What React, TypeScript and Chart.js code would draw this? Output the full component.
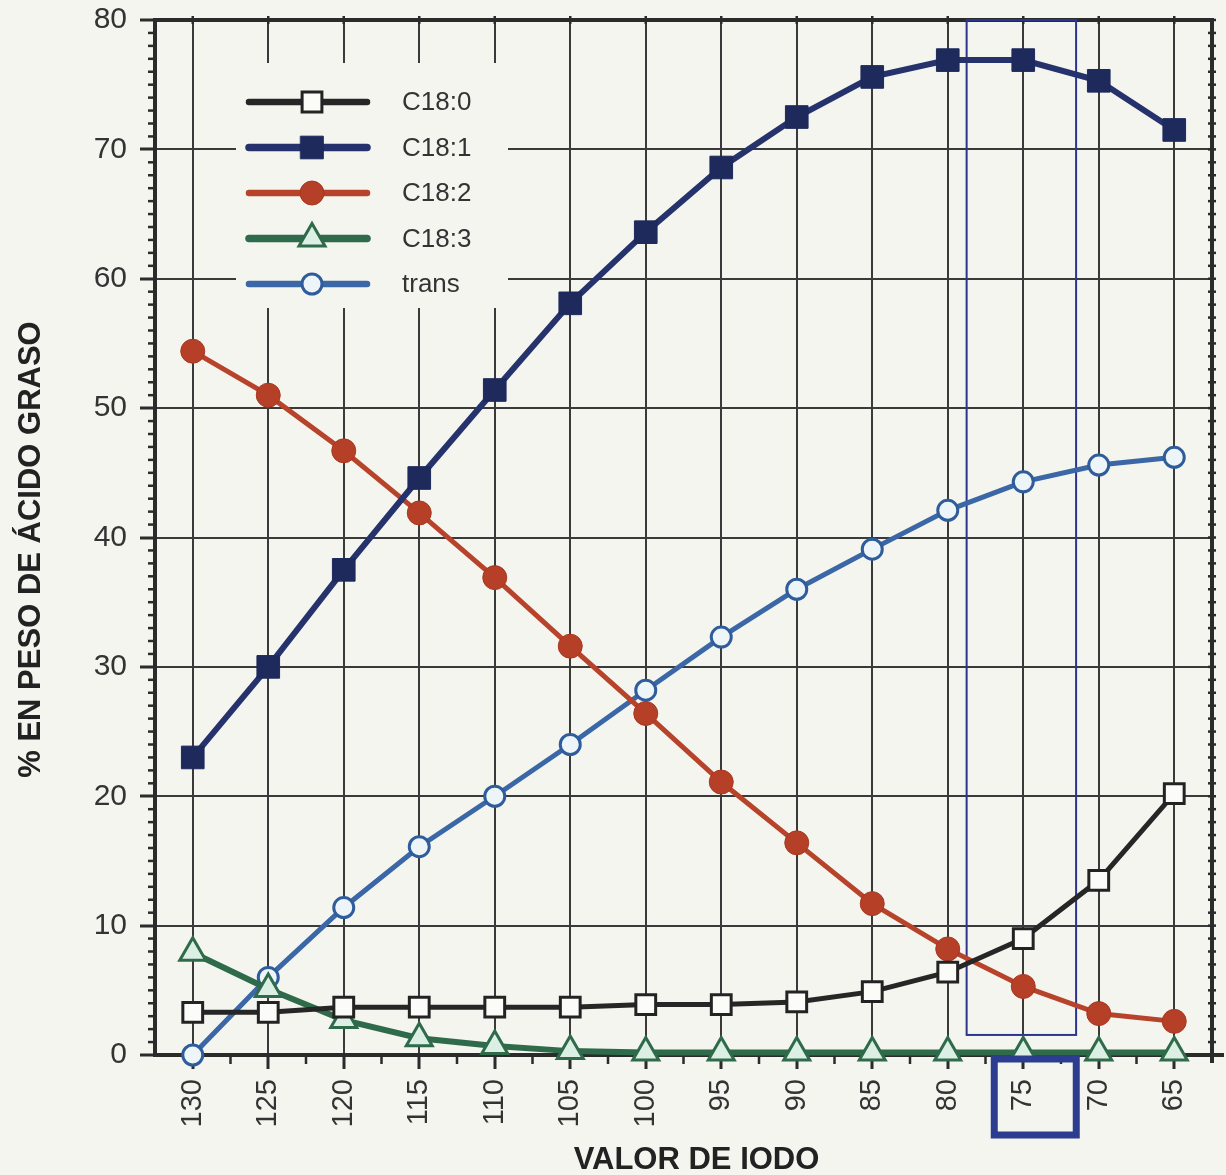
import React, { useEffect, useRef } from 'react';
import { Chart, registerables } from 'chart.js';
import { drawPoint } from 'chart.js/helpers';

Chart.register(...registerables);

// ---- data ----
const valorDeIodo = ['130', '125', '120', '115', '110', '105', '100', '95', '90', '85', '80', '75', '70', '65'];
const c180 = [3.3, 3.3, 3.7, 3.7, 3.7, 3.7, 3.9, 3.9, 4.1, 4.9, 6.4, 9.0, 13.5, 20.2];
const c181 = [23.0, 30.0, 37.5, 44.6, 51.4, 58.1, 63.6, 68.6, 72.5, 75.6, 76.9, 76.9, 75.3, 71.5];
const c182 = [54.4, 51.0, 46.7, 41.9, 36.9, 31.6, 26.4, 21.1, 16.4, 11.7, 8.2, 5.3, 3.2, 2.6];
const c183 = [7.9, 5.1, 2.7, 1.3, 0.7, 0.3, 0.2, 0.2, 0.2, 0.2, 0.2, 0.2, 0.2, 0.2];
const trans = [0.0, 6.0, 11.4, 16.1, 20.0, 24.0, 28.2, 32.3, 36.0, 39.1, 42.1, 44.3, 45.6, 46.2];
const seriesLabels = ['C18:0', 'C18:1', 'C18:2', 'C18:3', 'trans'];
const yMin = 0;
const yMax = 80;
const yStep = 10;
const xTitle = 'VALOR DE IODO';
const yTitle = '% EN PESO DE ÁCIDO GRASO';
const highlightLabel = '75';

const BG = '#f4f5ef';
const INK = '#2b2b2b';
const FONT = '"Liberation Sans", Arial, Helvetica, sans-serif';

const decorPlugin = {
  id: 'decor',
  beforeDatasetsDraw(chart: any) {
    const { ctx, chartArea: ca, scales } = chart;
    const x = scales.x;
    const y = scales.y;
    ctx.save();
    // minor ticks left axis (outside) and right axis
    ctx.strokeStyle = INK;
    ctx.lineWidth = 2.5;
    for (let v = yMin; v <= yMax; v += 1) {
      const py = y.getPixelForValue(v);
      if (v % yStep !== 0) {
        ctx.beginPath();
        ctx.moveTo(ca.left - 7, py);
        ctx.lineTo(ca.left, py);
        ctx.stroke();
      }
      ctx.beginPath();
      ctx.moveTo(ca.right - 4, py);
      ctx.lineTo(ca.right + 4, py);
      ctx.stroke();
    }
    // minor ticks bottom axis at half categories, small ticks on top
    for (let i = 0; i < valorDeIodo.length; i++) {
      const pm = x.getPixelForValue(i + 0.5);
      if (i < valorDeIodo.length - 1) {
        ctx.beginPath();
        ctx.moveTo(pm, ca.bottom);
        ctx.lineTo(pm, ca.bottom + 9);
        ctx.stroke();
      }
      const pc = x.getPixelForValue(i);
      ctx.beginPath();
      ctx.moveTo(pc, ca.top - 4);
      ctx.lineTo(pc, ca.top + 4);
      ctx.stroke();
    }
    // top & right borders
    ctx.lineWidth = 4;
    ctx.beginPath();
    ctx.moveTo(ca.left - 2, ca.top);
    ctx.lineTo(ca.right + 2, ca.top);
    ctx.moveTo(ca.right, ca.top);
    ctx.lineTo(ca.right, ca.bottom + 8);
    ctx.stroke();
    ctx.beginPath();
    ctx.moveTo(ca.right, ca.bottom);
    ctx.lineTo(ca.right + 12, ca.bottom);
    ctx.stroke();

    // highlight thin rectangle
    const hx0 = x.getPixelForValue(10.25);
    const hx1 = x.getPixelForValue(11.7);
    const hy1 = y.getPixelForValue(1.55);
    ctx.strokeStyle = '#2b3590';
    ctx.lineWidth = 2;
    ctx.strokeRect(hx0, ca.top, hx1 - hx0, hy1 - ca.top);

    // legend background
    ctx.fillStyle = BG;
    ctx.fillRect(ca.left + 81, ca.top + 43, 272, 245);
    ctx.restore();
  },
  afterDraw(chart: any) {
    const { ctx, chartArea: ca, scales } = chart;
    const x = scales.x;
    ctx.save();
    // legend
    const datasets = chart.data.datasets;
    datasets.forEach((ds: any, i: number) => {
      const ry = ca.top + 82 + i * 45.5;
      ctx.strokeStyle = ds.borderColor;
      ctx.lineWidth = ds.borderWidth + 1.5;
      ctx.lineCap = 'round';
      ctx.beginPath();
      ctx.moveTo(ca.left + 94, ry);
      ctx.lineTo(ca.left + 212, ry);
      ctx.stroke();
      ctx.fillStyle = ds.pointBackgroundColor;
      ctx.strokeStyle = ds.pointBorderColor;
      ctx.lineWidth = ds.pointBorderWidth;
      drawPoint(ctx, { pointStyle: ds.pointStyle, radius: ds.pointRadius, rotation: 0, borderWidth: ds.pointBorderWidth }, ca.left + 157, ry);
      ctx.fillStyle = '#333';
      ctx.font = `26px ${FONT}`;
      ctx.textAlign = 'left';
      ctx.textBaseline = 'middle';
      ctx.fillText(ds.label, ca.left + 247, ry + 1);
    });

    // box around highlighted label
    const hi = valorDeIodo.indexOf(highlightLabel);
    const pc = x.getPixelForValue(hi);
    ctx.strokeStyle = '#2c3d8f';
    ctx.lineWidth = 7;
    ctx.strokeRect(pc - 29, ca.bottom + 4, 82, 76);

    // titles
    ctx.fillStyle = '#222';
    ctx.font = `bold 31px ${FONT}`;
    ctx.textAlign = 'center';
    ctx.textBaseline = 'middle';
    ctx.fillText(xTitle, (ca.left + ca.right) / 2 + 13, 1160);
    ctx.translate(31, (ca.top + ca.bottom) / 2 + 12);
    ctx.rotate(-Math.PI / 2);
    ctx.fillText(yTitle, 0, 0);
    ctx.restore();
  },
};

export default function App() {
  const ref = useRef<HTMLCanvasElement | null>(null);
  useEffect(() => {
    document.body.style.background = BG;
    if (!ref.current) return;
    const chart = new Chart(ref.current, {
      type: 'line',
      data: {
        labels: valorDeIodo,
        datasets: [
          {
            label: seriesLabels[0],
            data: c180,
            borderColor: '#262626',
            borderWidth: 5,
            pointStyle: 'rect',
            pointRadius: 14,
            pointBackgroundColor: '#fbfbf7',
            pointBorderColor: '#232323',
            pointBorderWidth: 3,
            clip: false,
          },
          {
            label: seriesLabels[1],
            data: c181,
            borderColor: '#26326b',
            borderWidth: 6,
            pointStyle: 'rect',
            pointRadius: 16,
            pointBackgroundColor: '#1e2a5c',
            pointBorderColor: '#1e2a5c',
            pointBorderWidth: 1,
            clip: false,
          },
          {
            label: seriesLabels[2],
            data: c182,
            borderColor: '#b8432b',
            borderWidth: 5,
            pointStyle: 'circle',
            pointRadius: 12,
            pointBackgroundColor: '#b63f28',
            pointBorderColor: '#a8371f',
            pointBorderWidth: 1,
            clip: false,
          },
          {
            label: seriesLabels[3],
            data: c183,
            borderColor: '#2f6a4a',
            borderWidth: 6,
            pointStyle: 'triangle',
            pointRadius: 15,
            pointBackgroundColor: '#dcefe4',
            pointBorderColor: '#2f6a4a',
            pointBorderWidth: 3,
            clip: false,
          },
          {
            label: seriesLabels[4],
            data: trans,
            borderColor: '#3b67a6',
            borderWidth: 5,
            pointStyle: 'circle',
            pointRadius: 10,
            pointBackgroundColor: '#eef5f8',
            pointBorderColor: '#2f5d9c',
            pointBorderWidth: 3,
            clip: false,
          },
        ],
      },
      options: {
        animation: false,
        responsive: true,
        maintainAspectRatio: false,
        layout: { autoPadding: false, padding: { top: 20, right: 14, left: 0, bottom: 0 } },
        plugins: {
          legend: { display: false },
          tooltip: { enabled: false },
        },
        elements: { line: { tension: 0 } },
        scales: {
          x: {
            type: 'category',
            offset: true,
            afterFit: (s: any) => { s.height = 120; s.paddingLeft = 0; s.paddingRight = 0; },
            grid: {
              offset: false,
              color: '#3a3a3a',
              lineWidth: 2,
              drawTicks: true,
              tickLength: 14,
              tickColor: INK,
              tickWidth: 3,
            },
            border: { display: true, color: INK, width: 4 },
            ticks: {
              minRotation: 90,
              maxRotation: 90,
              padding: 10,
              color: '#333',
              font: { size: 29, family: FONT },
              autoSkip: false,
            },
          },
          y: {
            min: yMin,
            max: yMax,
            afterFit: (s: any) => { s.width = 155; s.paddingTop = 0; s.paddingBottom = 0; },
            grid: {
              color: '#3a3a3a',
              lineWidth: 2,
              drawTicks: true,
              tickLength: 15,
              tickColor: INK,
              tickWidth: 3,
            },
            border: { display: true, color: INK, width: 4 },
            ticks: {
              stepSize: yStep,
              padding: 13,
              color: '#333',
              font: { size: 30, family: FONT },
            },
          },
        },
      },
      plugins: [decorPlugin],
    });
    return () => chart.destroy();
  }, []);
  return (
    <div style={{ position: 'fixed', left: 0, top: 0, width: 1226, height: 1175, background: BG }}>
      <canvas ref={ref} />
    </div>
  );
}
